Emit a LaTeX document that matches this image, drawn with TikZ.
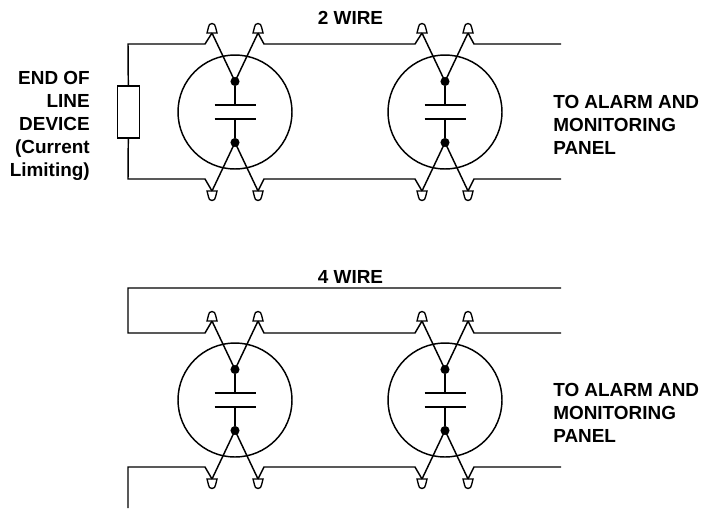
\documentclass[tikz,border=0pt]{standalone}
\usepackage{fontspec}
\setmainfont{Liberation Sans}
\usetikzlibrary{calc}
\tikzstyle{wire} = [line width=1.1pt, line join=miter]
\tikzstyle{housing} = [circle, draw=black, line width=1.1pt, minimum size=85.5pt, inner sep=0pt]
\tikzstyle{contact} = [circle, fill=black, minimum size=6.8pt, inner sep=0pt]
\tikzstyle{plate} = [line width=1.1pt]
\tikzstyle{lamp} = [line width=1pt, fill=white]
\tikzstyle{resistor} = [rectangle, draw=black, line width=1.1pt, fill=white, minimum width=16.5pt, minimum height=39pt, inner sep=0pt]
\tikzstyle{caption} = [font=\fontsize{14.2pt}{17.2pt}\selectfont\bfseries, inner sep=0pt]
\begin{document}
\begin{tikzpicture}[x=0.75pt, y=-0.75pt]
		\useasboundingbox (0,0) rectangle (709,508);
		%detectors, top row and bottom row
		\foreach \row/\yc in {a/112, b/400}{
			\foreach \col/\xc in {l/235, r/445}{
				\node (h\row\col) [housing] at (\xc,\yc) {};
				\node (ct\row\col) [contact] at (\xc,\yc-30.5) {};
				\node (cb\row\col) [contact] at (\xc,\yc+30.5) {};
				\coordinate (pt\row\col) at (\xc,\yc-7);
				\coordinate (pb\row\col) at (\xc,\yc+7);
				\draw [wire](ct\row\col) -- (pt\row\col);
				\draw [wire](cb\row\col) -- (pb\row\col);
				\draw [plate]($(pt\row\col)+(-20.5,0)$) -- ($(pt\row\col)+(20.5,0)$);
				\draw [plate]($(pb\row\col)+(-20.5,0)$) -- ($(pb\row\col)+(20.5,0)$);
				%leads and their little lamps
				\foreach \sgn/\s in {-1/m, 1/p}{
					\coordinate (lt\row\col\s) at (\xc+\sgn*23,\yc-79);
					\coordinate (lb\row\col\s) at (\xc+\sgn*23,\yc+79);
					\draw [wire](ct\row\col.center) -- (lt\row\col\s);
					\draw [wire](cb\row\col.center) -- (lb\row\col\s);
					\draw [lamp](lt\row\col\s) ++(-5,0) -- ++(1.5,-6) arc (180:360:3.5) -- ++(1.5,6) -- cycle;
					\draw [lamp](lb\row\col\s) ++(-5,0) -- ++(1.5,6) arc (180:0:3.5) -- ++(1.5,-6) -- cycle;
				}
			}
		}

		%corner points
		\coordinate (ca) at (128,44);
		\coordinate (cb) at (128,179);
		\node (eol) [resistor] at (128.5,112) {};

		%2 wire loop
		\draw [wire](eol) -- (ca) -- (205,44) -- (ltalm);
		\draw [wire](eol) -- (cb) -- (205,179) -- (lbalm);
		\draw [wire](ltalp) -- (264,44) -- (415,44) -- (ltarm);
		\draw [wire](lbalp) -- (264,179) -- (415,179) -- (lbarm);
		\coordinate (enda) at (561,44);
		\coordinate (endb) at (561,179);
		\draw [wire](ltarp) -- (474,44) -- (enda);
		\draw [wire](lbarp) -- (474,179) -- (endb);

		%4 wire loop
		\coordinate (cc) at (128,288);
		\coordinate (cd) at (128,333);
		\coordinate (ce) at (128,467);
		\coordinate (cf) at (128,508);
		\coordinate (endc) at (561,288);
		\coordinate (endd) at (561,333);
		\coordinate (ende) at (561,467);
		\draw [wire](endc) -- (cc) -- (cd) -- (205,333) -- (ltblm);
		\draw [wire](cf) -- (ce) -- (205,467) -- (lbblm);
		\draw [wire](ltblp) -- (264,333) -- (415,333) -- (ltbrm);
		\draw [wire](lbblp) -- (264,467) -- (415,467) -- (lbbrm);
		\draw [wire](ltbrp) -- (474,333) -- (endd);
		\draw [wire](lbbrp) -- (474,467) -- (ende);

		%labels
		\node (twowire) [caption] at (350.5,18) {2 WIRE};
		\node (fourwire) [caption] at (350.5,277) {4 WIRE};
		\node (eoltext) [caption, align=right, anchor=east] at (90,126) {END OF\\LINE\\DEVICE\\(Current\\Limiting)};
		\node (panela) [caption, align=left, anchor=west] at (553,125) {TO ALARM AND\\MONITORING\\PANEL};
		\node (panelb) [caption, align=left, anchor=west] at (553,413) {TO ALARM AND\\MONITORING\\PANEL};
	\end{tikzpicture}
\end{document}
